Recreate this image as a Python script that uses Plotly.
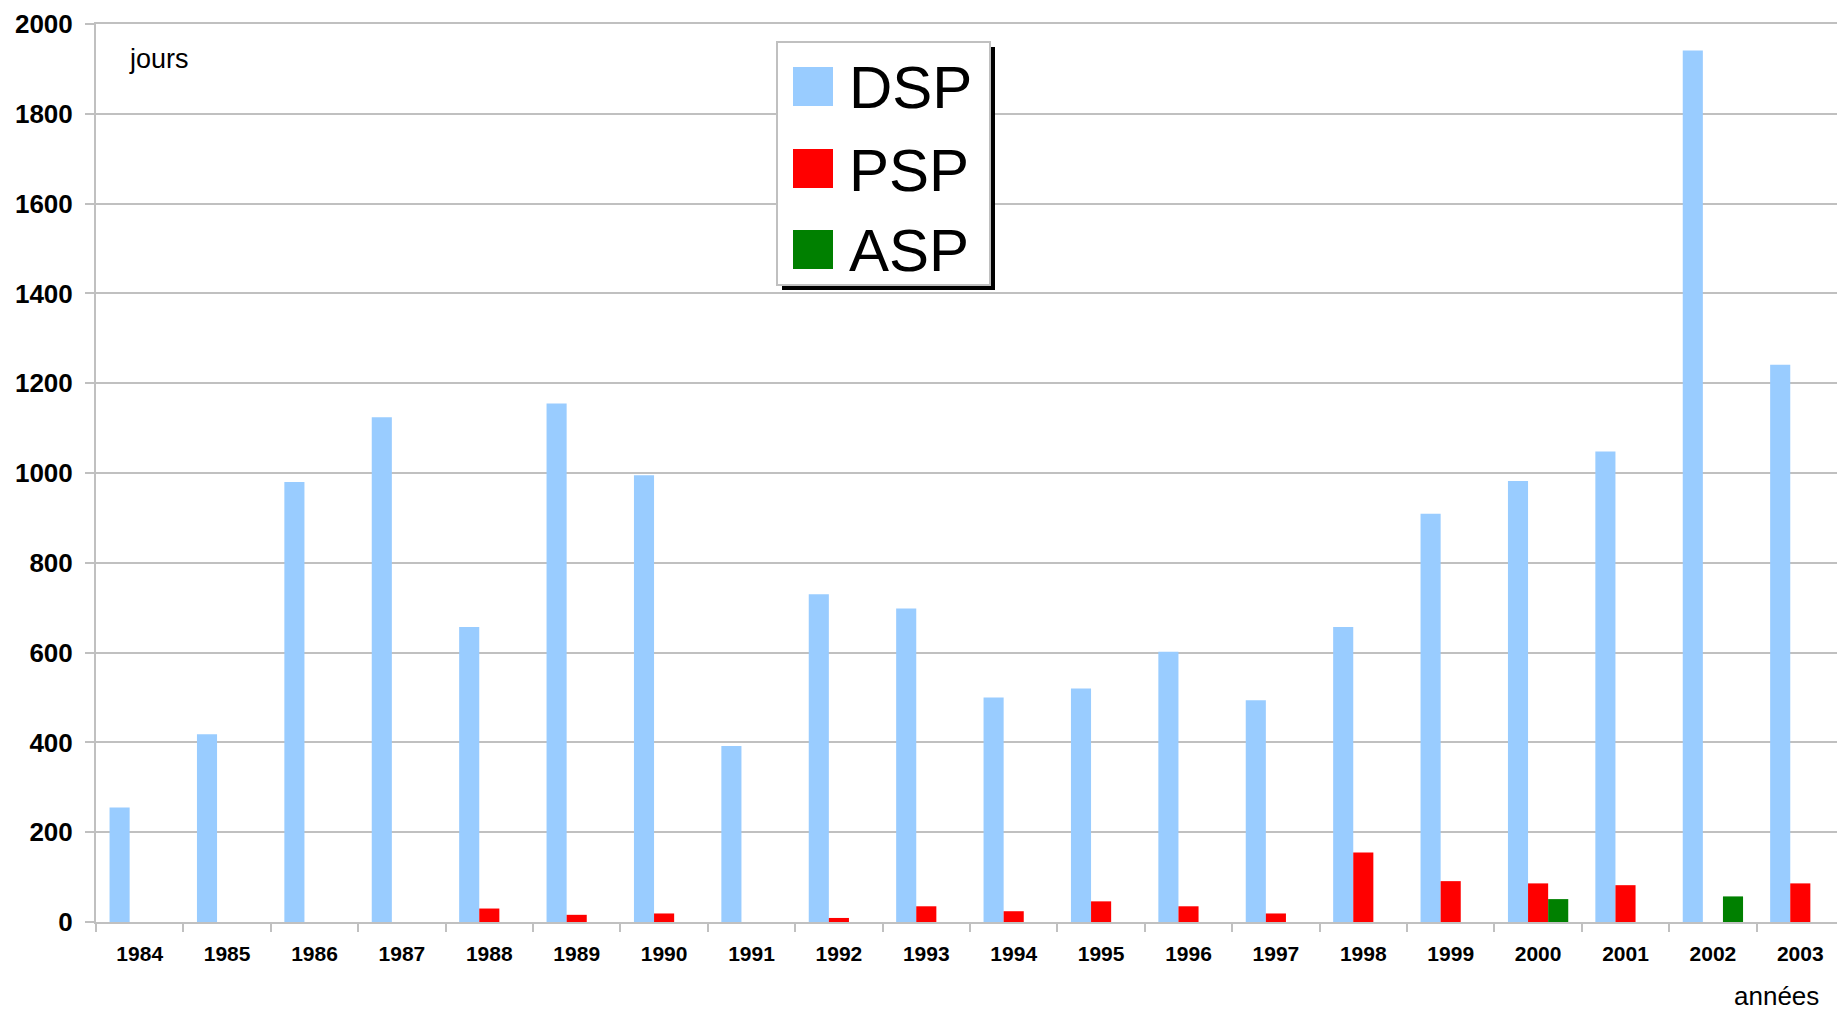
import plotly.graph_objects as go

years = [str(y) for y in range(1984, 2004)]
dsp = [255, 418, 980, 1124, 657, 1155, 995, 392, 730, 698, 500, 520, 602, 494, 657, 909, 982, 1048, 1941, 1241]
psp = [None, None, None, None, 30, 16, 19, None, 9, 35, 24, 46, 35, 19, 155, 91, 86, 82, None, 86]
asp = [None] * 16 + [51, None, 57, None]

series_names = ["DSP", "PSP", "ASP"]
series_colors = ["#99CCFF", "#FF0000", "#008000"]
y_ticks = list(range(0, 2001, 200))

WIN_W, WIN_H = 1845, 1011
OFF = 8  # default body margin of the page
W, H = WIN_W - OFF, WIN_H - OFF
L, R, T, B = 96, 1844, 24, 922  # plot area in window pixels

def fx(px):
    return (px - L) / (R - L)

def fy(py):
    return (B - py) / (B - T)

FONT = "Liberation Sans, Arial, sans-serif"
GRID = "#C0C0C0"

fig = go.Figure()
for name, vals, col in zip(series_names, [dsp, psp, asp], series_colors):
    fig.add_trace(go.Bar(x=years, y=vals, name=name, marker=dict(color=col, line=dict(width=0)),
                         showlegend=False))

shapes = []
annotations = []
# legend shadow + box
shapes.append(dict(type="rect", xref="paper", yref="paper", x0=fx(782), x1=fx(995), y0=fy(290), y1=fy(47),
                   fillcolor="black", line=dict(width=0), layer="above"))
shapes.append(dict(type="rect", xref="paper", yref="paper", x0=fx(777), x1=fx(990), y0=fy(285), y1=fy(42),
                   fillcolor="white", line=dict(color=GRID, width=2), layer="above"))
sw_tops = [67, 149, 230]
for i, (name, col) in enumerate(zip(series_names, series_colors)):
    t = sw_tops[i]
    shapes.append(dict(type="rect", xref="paper", yref="paper", x0=fx(793), x1=fx(833), y0=fy(t + 39), y1=fy(t),
                       fillcolor=col, line=dict(width=0), layer="above"))
    annotations.append(dict(text=name, xref="paper", yref="paper", x=fx(847), y=fy(t + 21),
                            xanchor="left", yanchor="middle", showarrow=False,
                            font=dict(family=FONT, size=60, color="black")))

annotations.append(dict(text="jours", xref="paper", yref="paper", x=fx(127), y=fy(59),
                        xanchor="left", yanchor="middle", showarrow=False,
                        font=dict(family=FONT, size=27, color="black")))
annotations.append(dict(text="années", xref="paper", yref="paper", x=fx(1821), y=fy(996),
                        xanchor="right", yanchor="middle", showarrow=False,
                        font=dict(family=FONT, size=26, color="black")))

fig.update_layout(
    width=W, height=H,
    margin=dict(l=L - OFF, r=W - (R - OFF), t=T - OFF, b=H - (B - OFF), pad=0, autoexpand=False),
    paper_bgcolor="white", plot_bgcolor="white",
    barmode="group", bargap=0.31, bargroupgap=0,
    shapes=shapes, annotations=annotations,
    font=dict(family=FONT, color="black"),
)
fig.update_xaxes(
    type="category", showgrid=False, showline=True, linecolor=GRID, linewidth=2, mirror=True,
    ticks="outside", tickson="boundaries", ticklen=8, tickcolor=GRID, tickwidth=2,
    tickfont=dict(family=FONT, size=21, color="black", weight="bold"),
    ticklabelstandoff=12, automargin=False,
)
fig.update_yaxes(
    range=[0, 2000], tickvals=y_ticks, showgrid=True, gridcolor=GRID, gridwidth=2,
    showline=True, linecolor=GRID, linewidth=2, mirror=True, zeroline=False,
    ticks="outside", ticklen=9, tickcolor=GRID, tickwidth=2,
    tickfont=dict(family=FONT, size=26, color="black", weight="bold"),
    ticklabelstandoff=7, automargin=False,
)

fig.write_html("out.html")
